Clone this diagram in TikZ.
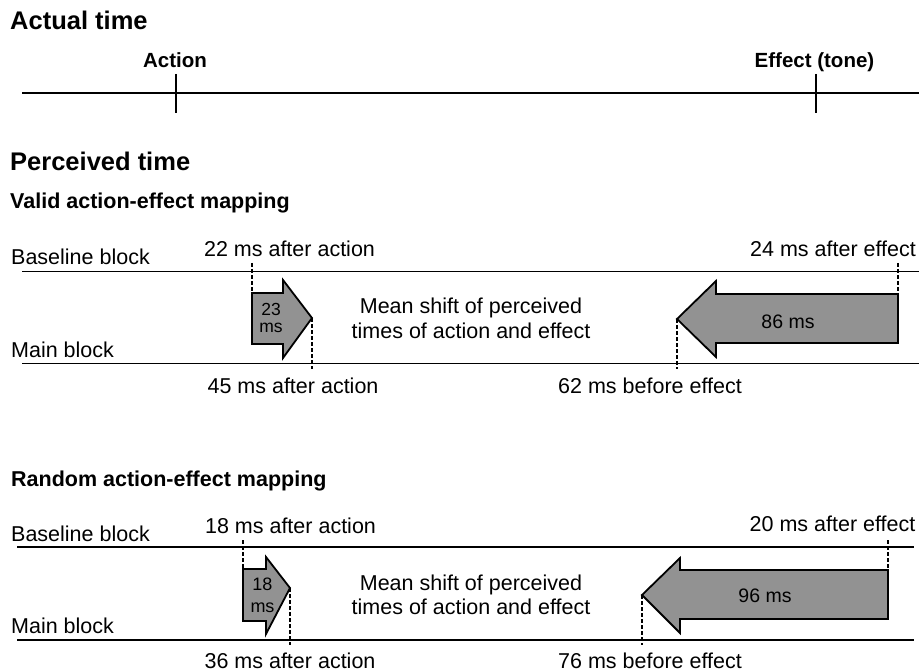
\documentclass[tikz,border=0pt]{standalone}
\usepackage{fontspec}
\setmainfont{Liberation Sans}
\begin{document}
\begin{tikzpicture}[x=1pt,y=-1pt,
  head/.style={font=\bfseries\fontsize{25.5}{29}\selectfont, inner sep=0pt, anchor=base west},
  subhead/.style={font=\bfseries\fontsize{21.5}{25}\selectfont, inner sep=0pt, anchor=base west},
  tlabel/.style={font=\bfseries\fontsize{20.5}{24}\selectfont, inner sep=0pt, anchor=base},
  txt/.style={font=\fontsize{21.5}{25}\selectfont, inner sep=0pt, anchor=base},
  lefttxt/.style={font=\fontsize{21.5}{25}\selectfont, inner sep=0pt, anchor=base west},
  small/.style={font=\fontsize{17.5}{15}\selectfont, inner sep=0pt, anchor=base},
  timeline/.style={line width=2pt},
  tick/.style={line width=2pt},
  blockline/.style={line width=1.6pt},
  arrowbox/.style={draw, line width=1.8pt, fill=shiftgray, line join=miter},
  guide/.style={line width=1.4pt, dash pattern=on 4pt off 2pt}
]
\definecolor{shiftgray}{HTML}{929292}
\useasboundingbox (0,0) rectangle (919,671);

% ---------- Actual time ----------
\node[head] (actual) at (10,30) {Actual time};
\node[tlabel] (action) at (175,68) {Action};
\node[tlabel] (effect) at (814.5,68) {Effect (tone)};
\coordinate (tl0) at (22,93);
\coordinate (tl1) at (919,93);
\draw[timeline] (tl0) -- (tl1);
\coordinate (ta0) at (176,74); \coordinate (ta1) at (176,113);
\coordinate (te0) at (816,74); \coordinate (te1) at (816,113);
\draw[tick] (ta0) -- (ta1);
\draw[tick] (te0) -- (te1);

% ---------- Perceived time ----------
\node[head] (perceived) at (10,171) {Perceived time};
\node[subhead] (valid) at (10,209) {Valid action-effect mapping};

% Section 1
\node[lefttxt] (base1) at (11,265) {Baseline block};
\node[lefttxt] (main1) at (11,357) {Main block};
\coordinate (bl1a) at (22,271.5); \coordinate (bl1b) at (919,271.5);
\coordinate (ml1a) at (22,363.5); \coordinate (ml1b) at (919,363.5);
\draw[blockline] (bl1a) -- (bl1b);
\draw[blockline] (ml1a) -- (ml1b);

\node[txt] (a22) at (289.5,257) {22 ms after action};
\node[txt] (e24) at (833,257) {24 ms after effect};
\node[txt] (a45) at (293,393) {45 ms after action};
\node[txt] (e62) at (650,393) {62 ms before effect};
\node[txt] (ms1a) at (471,313) {Mean shift of perceived};
\node[txt] (ms1b) at (471,338) {times of action and effect};

% right arrow 23 ms
\coordinate (r1s) at (252,293);
\coordinate (r1tip) at (312,318);
\draw[arrowbox] (r1s) -- (283,293) -- (283,280) -- (r1tip) -- (283,358) -- (283,344) -- (252,344) -- cycle;
\node[small] (n23) at (271,316) {23};
\node[small] (n23ms) at (271,332) {ms};
\coordinate (d1a) at (252,263);
\coordinate (d1b) at (312,369);
\draw[guide] (d1a) -- (r1s);
\draw[guide] (r1tip) -- (d1b);

% left arrow 86 ms
\coordinate (l1s) at (898,294);
\coordinate (l1tip) at (677,319);
\draw[arrowbox] (l1s) -- (716,294) -- (716,281) -- (l1tip) -- (716,357) -- (716,343) -- (898,343) -- cycle;
\node[txt, font=\fontsize{19.5}{22}\selectfont] (n86) at (788,328) {86 ms};
\coordinate (d2a) at (898,263);
\coordinate (d2b) at (677,369);
\draw[guide] (d2a) -- (l1s);
\draw[guide] (l1tip) -- (d2b);

% ---------- Random mapping ----------
\node[subhead] (random) at (11,486) {Random action-effect mapping};
\node[lefttxt] (base2) at (11,541) {Baseline block};
\node[lefttxt] (main2) at (11,633) {Main block};
\coordinate (bl2a) at (17,547); \coordinate (bl2b) at (914,547);
\coordinate (ml2a) at (17,640); \coordinate (ml2b) at (914,640);
\draw[blockline] (bl2a) -- (bl2b);
\draw[blockline] (ml2a) -- (ml2b);

\node[txt] (a18) at (290.5,533) {18 ms after action};
\node[txt] (e20) at (832.5,531) {20 ms after effect};
\node[txt] (a36) at (290,668) {36 ms after action};
\node[txt] (e76) at (650,668) {76 ms before effect};
\node[txt] (ms2a) at (471,590) {Mean shift of perceived};
\node[txt] (ms2b) at (471,614) {times of action and effect};

% right arrow 18 ms
\coordinate (r2s) at (243,569);
\coordinate (r2tip) at (290,588);
\draw[arrowbox] (r2s) -- (266,569) -- (266,557) -- (r2tip) -- (266,634) -- (266,621) -- (243,621) -- cycle;
\node[small, font=\fontsize{18}{22}\selectfont] (n18) at (262.5,590) {18};
\node[small, font=\fontsize{18}{22}\selectfont] (n18ms) at (262.5,612) {ms};
\coordinate (d3a) at (243,540);
\coordinate (d3b) at (290,645);
\draw[guide] (d3a) -- (r2s);
\draw[guide] (r2tip) -- (d3b);

% left arrow 96 ms
\coordinate (l2s) at (888,570);
\coordinate (l2tip) at (642,595);
\draw[arrowbox] (l2s) -- (680,570) -- (680,558) -- (l2tip) -- (680,633) -- (680,619) -- (888,619) -- cycle;
\node[txt, font=\fontsize{19.5}{22}\selectfont] (n96) at (765,602) {96 ms};
\coordinate (d4a) at (888,540);
\coordinate (d4b) at (642,645);
\draw[guide] (d4a) -- (l2s);
\draw[guide] (l2tip) -- (d4b);
\end{tikzpicture}
\end{document}
